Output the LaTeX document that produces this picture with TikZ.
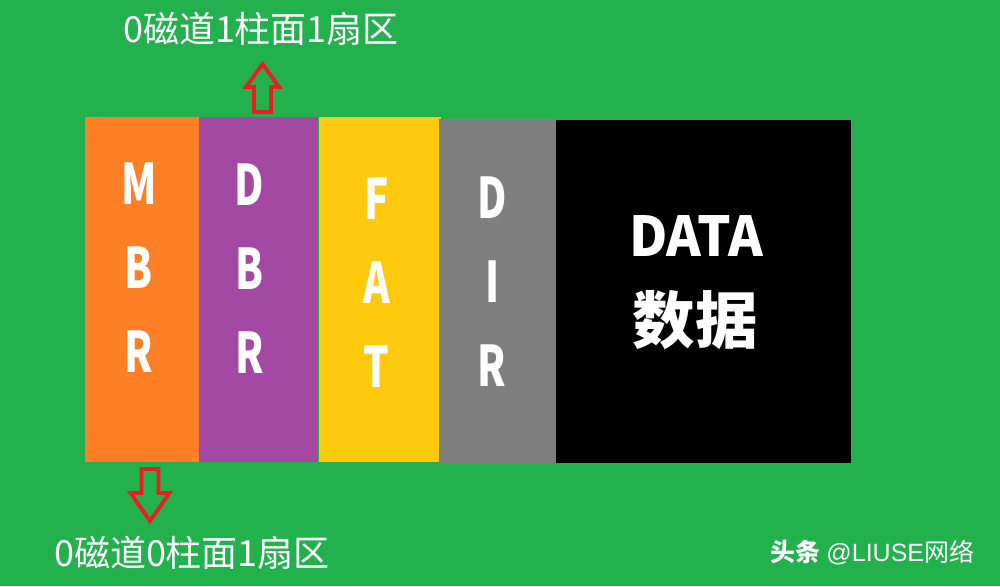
\documentclass[tikz,border=0pt]{standalone}
\usepackage{fontspec}
\setmainfont{Noto Sans CJK SC}
\newfontfamily\wmfont{Liberation Sans}
\usetikzlibrary{positioning}
\definecolor{bggreen}{RGB}{34,177,76}
\definecolor{mbrorange}{RGB}{255,127,39}
\definecolor{dbrpurple}{RGB}{163,73,164}
\definecolor{fatyellow}{RGB}{255,201,14}
\definecolor{dirgray}{RGB}{127,127,127}
\definecolor{arrowred}{RGB}{237,28,36}

\begin{document}
\begin{tikzpicture}[x=1pt, y=-1pt,
    area/.style={rectangle, inner sep=0pt, minimum height=345pt},
    letters/.style={text=white, inner sep=0pt, align=center, xscale=0.72,
        font=\bfseries\fontsize{56}{84}\selectfont},
    sector/.style={text=white, inner sep=0pt, font=\fontsize{36}{36}\selectfont},
    hollowarrow/.style={draw=arrowred, line width=3.8pt, line join=miter}
    ]
        \fill[bggreen] (0,0) rectangle (1000,586);
        \useasboundingbox (0,0) rectangle (1000,586);

        %Areas
        \node[area, fill=mbrorange, minimum width=114pt]
            (mbr)   at (142,289.5)          {};
        \node[area, fill=dbrpurple, minimum width=119pt]
            (dbr)   [right=0pt of mbr]      {};
        \node[area, fill=fatyellow, minimum width=122pt]
            (fat)   [right=0pt of dbr]      {};
        \node[area, fill=dirgray, minimum width=117pt]
            (dir)   [right=-2pt of fat, yshift=-2pt] {};
        \node[area, fill=black, minimum width=295pt, minimum height=343pt]
            (data)  [right=-1pt of dir]     {};

        %Texts
        \node[letters] (mbrtext) at ([xshift=-3pt, yshift=21.5pt]mbr.center) {M\\B\\R};
        \node[letters] (dbrtext) at ([xshift=-9.5pt, yshift=20.5pt]dbr.center) {D\\B\\R};
        \node[letters] (fattext) at ([xshift=-3pt, yshift=6.5pt]fat.center) {F\\A\\T};
        \node[letters] (dirtext) at ([xshift=-5.5pt, yshift=9.5pt]dir.center) {D\\I\\R};
        \node[letters, xscale=1.33, font=\bfseries\fontsize{55}{55}\selectfont]
            (datatext) at ([xshift=-7pt, yshift=55.5pt]data.center) {DATA};
        \node[letters, xscale=1.4, font=\bfseries\fontsize{62}{62}\selectfont]
            (datacjk) at ([xshift=-8pt, yshift=-29pt]data.center) {数据};

        \node[sector] (sector1) at (261,29)  {0磁道1柱面1扇区};
        \node[sector] (sector0) at (192,553) {0磁道0柱面1扇区};
        \node[text=white, inner sep=0pt, font=\fontsize{25}{25}\selectfont]
            (mark) at (872.5,553) {{\bfseries 头条} {\wmfont @LIUSE}网络};

        %Arrows
        \coordinate (uptip) at (262.5,64);
        \coordinate (downtip) at (150,521);
        \draw[hollowarrow] (uptip) -- ++(16.5,23) -- ++(-8,0) -- ++(0,25)
            -- ++(-17,0) -- ++(0,-25) -- ++(-8,0) -- cycle;
        \draw[hollowarrow] (downtip) -- ++(19.5,-28) -- ++(-11,0) -- ++(0,-24)
            -- ++(-17,0) -- ++(0,24) -- ++(-11,0) -- cycle;
    \end{tikzpicture}
\end{document}
